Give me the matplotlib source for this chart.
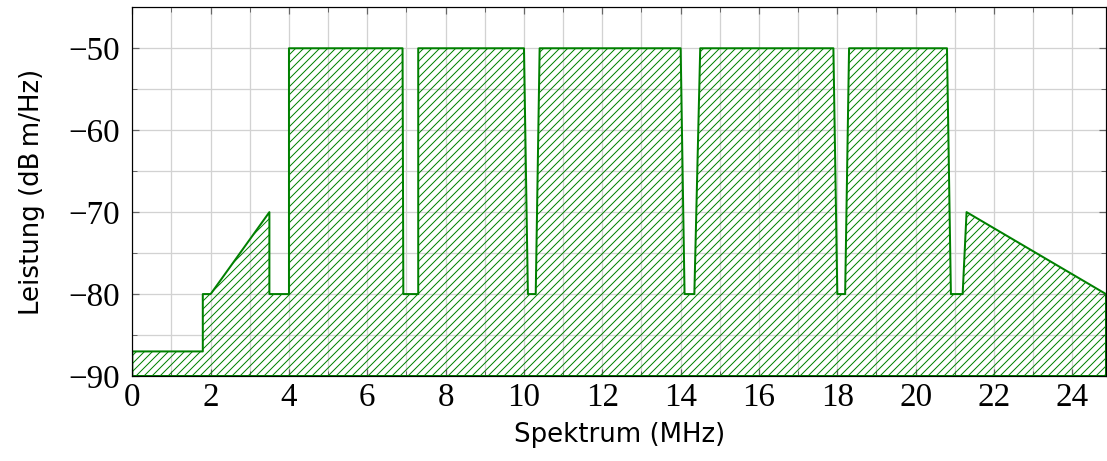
import numpy as np
import matplotlib
matplotlib.use("Agg")
import matplotlib.pyplot as plt
from matplotlib.ticker import MultipleLocator

# spectrum mask (MHz, dBm/Hz)
freq = [0, 1.8, 1.8, 2.0, 3.5, 3.5, 4.0, 4.0, 6.9, 6.92, 7.3, 7.3,
        10.0, 10.1, 10.3, 10.4, 14.0, 14.1, 14.35, 14.5,
        17.9, 18.0, 18.2, 18.3, 20.8, 20.9, 21.2, 21.3, 24.86]
power = [-87, -87, -80, -80, -70, -80, -80, -50, -50, -80, -80, -50,
         -50, -80, -80, -50, -50, -80, -80, -50,
         -50, -80, -80, -50, -50, -80, -80, -70, -80]

xticks = list(range(0, 25, 2))
yticks = [-90, -80, -70, -60, -50]

green = (0, 0.5, 0)

fig = plt.figure(figsize=(1107 / 72, 461 / 72), dpi=72)
ax = fig.add_axes([132.3 / 1107, 1 - 376 / 461, (1106 - 132.3) / 1107, (376 - 7.3) / 461])

plt.rcParams['hatch.linewidth'] = 1.0
ax.fill_between(freq, power, -90, facecolor='none', edgecolor=green,
                hatch='///', linewidth=2.0, zorder=2)

ax.set_xlim(0, 24.86)
ax.set_ylim(-90, -45)

ax.xaxis.set_minor_locator(MultipleLocator(1))
ax.yaxis.set_minor_locator(MultipleLocator(5))

ax.grid(True, which='both', color='#d2d2d2', linewidth=1.3)
ax.set_axisbelow(True)

ax.tick_params(which='both', direction='in', top=True, right=True, color='#666666')
ax.tick_params(which='major', length=7, width=1.2)
ax.tick_params(which='minor', length=5, width=1.0)
ax.tick_params(axis='x', which='major', pad=6)
ax.tick_params(axis='y', which='major', pad=12)

for sp in ax.spines.values():
    sp.set_linewidth(1.2)
    sp.set_zorder(3)

ax.set_xticks(xticks)
ax.set_xticklabels([str(v) for v in xticks], family='Liberation Serif', fontsize=33)
ax.set_yticks(yticks)
ax.set_yticklabels([str(v).replace('-', '\u2212') for v in yticks],
                   family='Liberation Serif', fontsize=33)

ax.set_xlabel('Spektrum (MHz)', family='DejaVu Sans', fontsize=26, labelpad=9)
ax.set_ylabel('Leistung (dB\u2009m/Hz)', family='DejaVu Sans', fontsize=26, labelpad=24)

fig.savefig('out.png', dpi=72)
